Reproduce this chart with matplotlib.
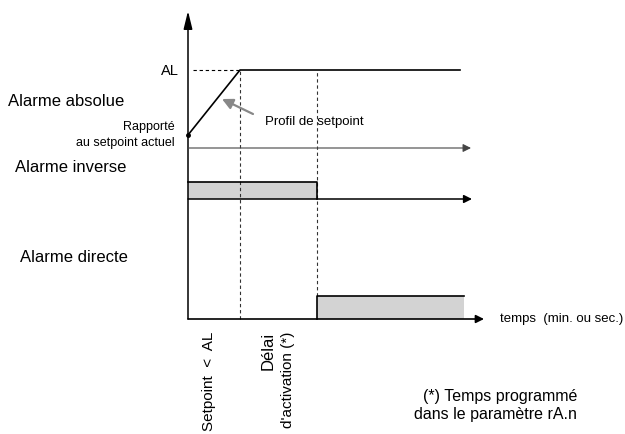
import matplotlib.pyplot as plt

plt.rcParams['font.family'] = ['Liberation Sans', 'DejaVu Sans']

# diagram units: x = time (0 at the vertical axis), y = level (0 at the time axis)
t_al = 52          # setpoint reaches AL
t_delay = 129      # end of activation delay
t_end = 272        # end of drawn signals
setpoint_t = [0, t_al, t_end]
setpoint_v = [184, 249, 249]
al_level = 249
abs_axis = 171
inverse_t = [0, t_delay]
inverse_low, inverse_high = 120, 137
direct_t = [t_delay, 276]
direct_low, direct_high = 0, 23

fig = plt.figure(figsize=(6.25, 4.35), dpi=100)
ax = fig.add_axes([0, 0, 1, 1])
ax.set_xlim(-188, 625 - 188)
ax.set_ylim(-115, 320)
ax.axis('off')

lw = 1.2
fill = '#d3d3d3'

def arrow(x0, y0, x1, y1, color='black', lw=1.0, style='-|>'):
    ax.annotate('', xy=(x1, y1), xytext=(x0, y0),
                arrowprops=dict(arrowstyle=style, color=color, lw=lw,
                                mutation_scale=12, shrinkA=0, shrinkB=0))

# vertical axis
arrow(0, 0, 0, 308, lw=1.1, style='-|>,head_width=0.22,head_length=0.9')

# setpoint profile
ax.plot(setpoint_t, setpoint_v, color='black', lw=lw)
ax.plot(0, setpoint_v[0], 'o', color='black', ms=2.5)
ax.plot([5, t_al], [al_level, al_level], color='black', lw=0.8, ls=(0, (3, 2.5)))
ax.plot([t_al, t_al], [0, al_level], color='#333333', lw=0.8, ls=(0, (3, 2.5)))
ax.plot([t_delay, t_delay], [direct_high, al_level], color='#333333', lw=0.8, ls=(0, (3, 2.5)))
arrow(0, abs_axis, 283, abs_axis, color='#444444', lw=0.8)

# inverse alarm
ax.fill_between(inverse_t, inverse_low, inverse_high, color=fill, lw=0)
ax.plot([0, t_delay, t_delay], [inverse_high, inverse_high, inverse_low], color='black', lw=lw)
arrow(0, inverse_low, 284, inverse_low, lw=1.1)

# direct alarm
ax.fill_between(direct_t, direct_low, direct_high, color=fill, lw=0)
ax.plot([t_delay, t_delay, direct_t[1]], [direct_low, direct_high, direct_high], color='black', lw=lw)
arrow(0, 0, 296, 0, lw=1.2)

# profile arrow
ax.annotate('', xy=(34, 220), xytext=(65, 205),
            arrowprops=dict(arrowstyle='-|>', color='#888888', lw=1.6,
                            mutation_scale=16, shrinkA=0, shrinkB=0))
ax.text(77, 198, 'Profil de setpoint', fontsize=9.5, va='center', ha='left')

# labels
ax.text(-9, al_level, 'AL', fontsize=10.5, ha='right', va='center')
ax.text(-180, 218, 'Alarme absolue', fontsize=12, ha='left', va='center')
ax.text(-13, 193, 'Rapporté', fontsize=9, ha='right', va='center')
ax.text(-13, 177, 'au setpoint actuel', fontsize=9, ha='right', va='center')
ax.text(-173, 152, 'Alarme inverse', fontsize=12, ha='left', va='center')
ax.text(-168, 62, 'Alarme directe', fontsize=12, ha='left', va='center')
ax.text(312, 1, 'temps  (min. ou sec.)', fontsize=9.5, ha='left', va='center')

ax.text(21, -12, 'Setpoint  <  AL', fontsize=11, rotation=90, ha='center', va='top')
ax.text(80, -12, 'Délai', fontsize=12, rotation=90, ha='center', va='top')
ax.text(100, -12, "d'activation (*)", fontsize=11, rotation=90, ha='center', va='top')

ax.text(389, -77, '(*) Temps programmé', fontsize=11.5, ha='right', va='center')
ax.text(389, -95, 'dans le paramètre rA.n', fontsize=11.5, ha='right', va='center')

fig.savefig('out.png', dpi=100)
